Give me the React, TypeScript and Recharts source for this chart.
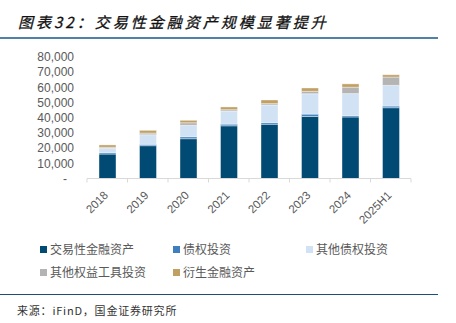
import React from 'react';
import { BarChart, Bar, XAxis, YAxis } from 'recharts';

const categories = ['2018', '2019', '2020', '2021', '2022', '2023', '2024', '2025H1'];
const tradingAssets = [16100, 21600, 26200, 34700, 35700, 40900, 40500, 46600];
const debtInvest = [900, 900, 1300, 1100, 1100, 1500, 900, 1100];
const otherDebtInvest = [2900, 6300, 7500, 8600, 11600, 13400, 14500, 13600];
const otherEquityInvest = [700, 1100, 1700, 900, 900, 1600, 4200, 5500];
const derivatives = [1500, 1800, 1600, 1800, 2400, 2200, 2200, 1500];
const yTicks = [0, 10000, 20000, 30000, 40000, 50000, 60000, 70000, 80000];

const seriesNames = ['交易性金融资产', '债权投资', '其他债权投资', '其他权益工具投资', '衍生金融资产'];
const seriesKeys = ['a', 'b', 'c', 'd', 'e'];
const seriesColors = ['#004a73', '#3f7fc0', '#d0e2f3', '#b4b4b4', '#c1a063'];

const data = categories.map((c, i) => ({
  name: c,
  a: tradingAssets[i],
  b: debtInvest[i],
  c: otherDebtInvest[i],
  d: otherEquityInvest[i],
  e: derivatives[i],
}));

const LATIN = '"Liberation Sans", Arial, sans-serif';
const CJK = '"Noto Sans CJK SC", "Liberation Sans", sans-serif';
const BAND = 40.5;

const XTick = (props: any) => {
  const { x, y, payload, index } = props;
  const half = BAND / 2;
  const tx = x + 1.5;
  const ty = y + 17.5;
  return (
    <g>
      <line x1={x - half} x2={x - half} y1={y} y2={y + 4} stroke="#d9d9d9" />
      {index === categories.length - 1 && (
        <line x1={x + half} x2={x + half} y1={y} y2={y + 4} stroke="#d9d9d9" />
      )}
      <text
        x={tx}
        y={ty}
        transform={`rotate(-45, ${tx}, ${ty})`}
        textAnchor="end"
        fontSize={11.5}
        fontFamily={LATIN}
        fill="#595959"
      >
        {payload.value}
      </text>
    </g>
  );
};

const YTick = (props: any) => {
  const { x, y, payload } = props;
  const v = payload.value;
  const label = v === 0 ? '-' : v.toLocaleString('en-US');
  return (
    <text
      x={v === 0 ? x - 7 : x}
      y={y}
      dy="0.355em"
      textAnchor="end"
      fontSize={12}
      fontFamily={LATIN}
      fill="#595959"
    >
      {label}
    </text>
  );
};

const legendPos = [
  { left: 40, top: 241 },
  { left: 173, top: 241 },
  { left: 306, top: 241 },
  { left: 40, top: 264 },
  { left: 173, top: 264 },
];

export default function App() {
  return (
    <div style={{ position: 'absolute', left: 0, top: 0, width: 456, height: 323, background: '#fff', overflow: 'hidden' }}>
      <div
        style={{
          position: 'absolute',
          left: 18,
          top: 12,
          fontFamily: CJK,
          fontSize: 15,
          fontWeight: 'normal',
          fontStyle: 'italic',
          letterSpacing: 3,
          color: '#111111',
          lineHeight: '20px',
          whiteSpace: 'nowrap',
          WebkitTextStroke: '0.3px #111111',
        }}
      >
        图表32：交易性金融资产规模显著提升
      </div>
      <div style={{ position: 'absolute', left: 0, top: 37, width: 438, height: 2, background: '#4f82a6' }} />

      <div style={{ position: 'absolute', left: 0, top: 0 }}>
        <BarChart
          width={456}
          height={323}
          data={data}
          margin={{ top: 57, right: 45, bottom: 114.5, left: 0 }}
          barSize={17}
        >
          <XAxis
            dataKey="name"
            height={30}
            axisLine={{ stroke: '#d9d9d9' }}
            tickLine={false}
            tickSize={0}
            tickMargin={0}
            interval={0}
            tick={<XTick />}
          />
          <YAxis
            width={87}
            domain={[0, 80000]}
            ticks={yTicks}
            axisLine={false}
            tickLine={false}
            tickSize={0}
            tickMargin={13}
            interval={0}
            tick={<YTick />}
          />
          {seriesKeys.map((k, i) => (
            <Bar
              key={k}
              dataKey={k}
              name={seriesNames[i]}
              stackId="s"
              fill={seriesColors[i]}
              stroke="#ffffff"
              strokeWidth={0.4}
              isAnimationActive={false}
            />
          ))}
        </BarChart>
      </div>

      {seriesNames.map((n, i) => (
        <div
          key={n}
          style={{
            position: 'absolute',
            left: legendPos[i].left,
            top: legendPos[i].top,
            height: 16,
            display: 'flex',
            alignItems: 'center',
            whiteSpace: 'nowrap',
          }}
        >
          <span style={{ display: 'inline-block', width: 7, height: 7, background: seriesColors[i], marginRight: 3 }} />
          <span style={{ fontFamily: CJK, fontSize: 12, color: '#595959', lineHeight: '16px' }}>{n}</span>
        </div>
      ))}

      <div style={{ position: 'absolute', left: 0, top: 293.5, width: 438, height: 1.5, background: '#1f4e79' }} />
      <div
        style={{
          position: 'absolute',
          left: 17,
          top: 302,
          fontFamily: CJK,
          fontSize: 11,
          color: '#333333',
          letterSpacing: 0.8,
          lineHeight: '16px',
          whiteSpace: 'nowrap',
        }}
      >
        来源：iFinD，国金证券研究所
      </div>
    </div>
  );
}
